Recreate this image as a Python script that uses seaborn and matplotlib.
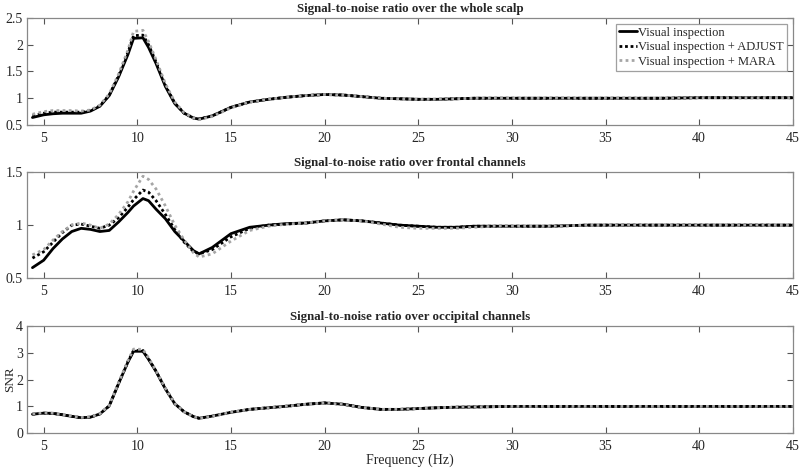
import numpy as np
import pandas as pd
import seaborn as sns
import matplotlib
matplotlib.use("Agg")
import matplotlib.pyplot as plt
from matplotlib.ticker import FormatStrFormatter

freq = [4.4, 5, 5.5, 6, 6.5, 7, 7.5, 8, 8.5, 9, 9.5, 9.8, 10.3, 10.6, 11, 11.5,
        12, 12.5, 13, 13.3, 14, 15, 16, 17, 18, 19, 20, 21, 22, 23, 24, 25, 26,
        27, 28, 29, 30, 32, 34, 36, 38, 40, 42, 45]

scalp_vis = [0.64, 0.69, 0.71, 0.72, 0.72, 0.72, 0.76, 0.85, 1.05, 1.40, 1.82, 2.12,
             2.13, 1.95, 1.65, 1.22, 0.90, 0.72, 0.63, 0.61, 0.67, 0.83, 0.93, 0.98,
             1.02, 1.05, 1.07, 1.06, 1.03, 1.00, 0.99, 0.98, 0.98, 0.99, 1.00, 1.00,
             1.00, 1.00, 1.00, 1.00, 1.00, 1.01, 1.01, 1.01]
scalp_adjust = [0.67, 0.72, 0.74, 0.74, 0.74, 0.74, 0.77, 0.86, 1.06, 1.42, 1.86, 2.17,
                2.18, 2.00, 1.68, 1.24, 0.91, 0.72, 0.63, 0.61, 0.67, 0.83, 0.93, 0.98,
                1.02, 1.05, 1.07, 1.06, 1.03, 1.00, 0.99, 0.98, 0.98, 0.99, 1.00, 1.00,
                1.00, 1.00, 1.00, 1.00, 1.00, 1.01, 1.01, 1.01]
scalp_mara = [0.70, 0.75, 0.77, 0.77, 0.77, 0.76, 0.78, 0.87, 1.08, 1.45, 1.90, 2.25,
              2.27, 2.06, 1.72, 1.27, 0.93, 0.73, 0.63, 0.60, 0.66, 0.82, 0.93, 0.98,
              1.02, 1.05, 1.07, 1.06, 1.03, 1.00, 0.99, 0.98, 0.98, 0.99, 1.00, 1.00,
              1.00, 1.00, 1.00, 1.00, 1.00, 1.01, 1.01, 1.01]

front_vis = [0.60, 0.67, 0.78, 0.87, 0.94, 0.97, 0.96, 0.94, 0.95, 1.03, 1.12, 1.18,
             1.25, 1.23, 1.15, 1.06, 0.94, 0.85, 0.76, 0.73, 0.79, 0.92, 0.98, 1.00,
             1.015, 1.02, 1.04, 1.05, 1.04, 1.02, 1.00, 0.99, 0.98, 0.98, 0.99, 0.99,
             0.99, 0.99, 1.00, 1.00, 1.00, 1.00, 1.00, 1.00]
front_adjust = [0.69, 0.75, 0.84, 0.93, 1.00, 1.01, 0.99, 0.97, 1.00, 1.07, 1.17, 1.24,
                1.33, 1.31, 1.23, 1.10, 0.96, 0.84, 0.75, 0.73, 0.77, 0.89, 0.97, 1.00,
                1.01, 1.02, 1.04, 1.05, 1.04, 1.02, 1.00, 0.99, 0.98, 0.98, 0.99, 0.99,
                0.99, 0.99, 1.00, 1.00, 1.00, 1.00, 1.00, 1.00]
front_mara = [0.72, 0.77, 0.86, 0.94, 1.00, 1.02, 1.00, 0.97, 1.01, 1.10, 1.22, 1.32,
              1.46, 1.43, 1.34, 1.18, 1.00, 0.86, 0.74, 0.70, 0.73, 0.85, 0.95, 0.99,
              1.01, 1.02, 1.04, 1.05, 1.04, 1.01, 0.98, 0.97, 0.97, 0.97, 0.98, 0.99,
              0.99, 0.99, 1.00, 1.00, 1.00, 1.00, 1.00, 1.00]

occ_vis = [0.71, 0.75, 0.74, 0.69, 0.63, 0.58, 0.60, 0.72, 1.02, 1.85, 2.65, 3.05,
           3.05, 2.75, 2.30, 1.65, 1.10, 0.80, 0.62, 0.56, 0.64, 0.78, 0.89, 0.95,
           1.01, 1.08, 1.13, 1.08, 0.96, 0.89, 0.89, 0.92, 0.95, 0.97, 0.98, 0.99,
           1.00, 1.00, 1.00, 1.00, 1.00, 1.00, 1.00, 1.00]
occ_adjust = [0.71, 0.75, 0.74, 0.69, 0.63, 0.58, 0.60, 0.72, 1.02, 1.86, 2.67, 3.08,
              3.08, 2.77, 2.31, 1.66, 1.10, 0.80, 0.62, 0.56, 0.64, 0.78, 0.89, 0.95,
              1.01, 1.08, 1.13, 1.08, 0.96, 0.89, 0.89, 0.92, 0.95, 0.97, 0.98, 0.99,
              1.00, 1.00, 1.00, 1.00, 1.00, 1.00, 1.00, 1.00]
occ_mara = [0.72, 0.76, 0.75, 0.70, 0.64, 0.59, 0.61, 0.73, 1.04, 1.88, 2.70, 3.13,
            3.12, 2.80, 2.33, 1.67, 1.11, 0.80, 0.62, 0.56, 0.64, 0.78, 0.89, 0.95,
            1.01, 1.08, 1.13, 1.08, 0.96, 0.89, 0.89, 0.92, 0.95, 0.97, 0.98, 0.99,
            1.00, 1.00, 1.00, 1.00, 1.00, 1.00, 1.00, 1.00]

labels = ["Visual inspection", "Visual inspection + ADJUST", "Visual inspection + MARA"]
titles = ["Signal-to-noise ratio over the whole scalp",
          "Signal-to-noise ratio over frontal channels",
          "Signal-to-noise ratio over occipital channels"]
panels = [(scalp_vis, scalp_adjust, scalp_mara),
          (front_vis, front_adjust, front_mara),
          (occ_vis, occ_adjust, occ_mara)]
ylims = [(0.5, 2.5), (0.5, 1.5), (0, 4)]
yticks = [[0.5, 1, 1.5, 2, 2.5], [0.5, 1, 1.5], [0, 1, 2, 3, 4]]
xticks = [5, 10, 15, 20, 25, 30, 35, 40, 45]

sns.set_style("white")
plt.rcParams["font.family"] = ["Liberation Serif", "DejaVu Serif"]
plt.rcParams["font.size"] = 10

fig = plt.figure(figsize=(8, 4.69), dpi=100)
boxes = [[0.034, 0.7335, 0.957, 0.2281],
         [0.034, 0.4066, 0.957, 0.2267],
         [0.034, 0.0761, 0.957, 0.2294]]

styles = [dict(color="black", linestyle="-", linewidth=2.0),
          dict(color="black", linestyle=(0, (1, 1)), linewidth=2.0),
          dict(color="#a6a6a6", linestyle=(0, (1, 1.2)), linewidth=2.0)]

axes = []
for i, (series, title) in enumerate(zip(panels, titles)):
    ax = fig.add_axes(boxes[i])
    for vals, lab, st in zip(series, labels, styles):
        df = pd.DataFrame({"freq": freq, "snr": vals})
        sns.lineplot(data=df, x="freq", y="snr", ax=ax, label=lab, **st)
    ax.set_xlim(4.12, 45)
    ax.set_ylim(*ylims[i])
    ax.set_xticks(xticks)
    ax.set_yticks(yticks[i])
    ax.yaxis.set_major_formatter(FormatStrFormatter("%g"))
    ax.tick_params(direction="in", length=4, width=0.8, color="#555555",
                   top=True, right=True, labelsize=10,
                   bottom=True, left=True)
    ax.tick_params(axis="x", pad=5)
    ax.tick_params(axis="y", pad=3)
    for sp in ax.spines.values():
        sp.set_color("#888888")
        sp.set_linewidth(0.9)
    ax.set_title(title, fontsize=9.3, fontweight="bold", pad=4)
    ax.set_xlabel("")
    ax.set_ylabel("")
    if i == 0:
        leg = ax.legend(loc="upper right", frameon=True, fontsize=9,
                        handlelength=1.4, handletextpad=0.15, borderpad=0.25,
                        labelspacing=0.2, borderaxespad=0.45, fancybox=False)
        leg.get_frame().set_edgecolor("#888888")
        leg.get_frame().set_linewidth(0.9)
    else:
        ax.get_legend().remove()
    axes.append(ax)

axes[2].set_xlabel("Frequency (Hz)", fontsize=10, labelpad=0)
axes[2].set_ylabel("SNR", fontsize=9.5)
axes[2].yaxis.set_label_coords(-0.015, 0.5)

fig.savefig("out.png", dpi=100)
